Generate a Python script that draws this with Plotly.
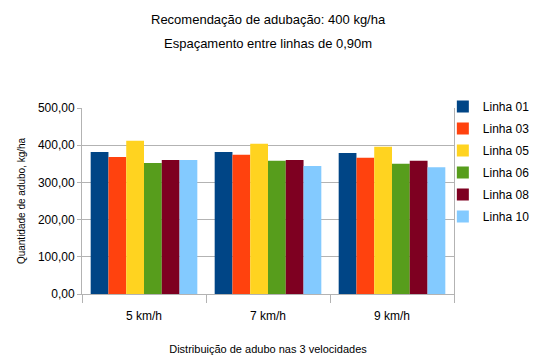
import plotly.graph_objects as go

# Fertilizer distribution per row at three tractor speeds
speeds = ["5 km/h", "7 km/h", "9 km/h"]
rows = ["Linha 01", "Linha 03", "Linha 05", "Linha 06", "Linha 08", "Linha 10"]
linha_01 = [382, 382, 379]
linha_03 = [368, 374, 366]
linha_05 = [412, 404, 396]
linha_06 = [352, 358, 350]
linha_08 = [360, 360, 358]
linha_10 = [360, 344, 341]
series = [linha_01, linha_03, linha_05, linha_06, linha_08, linha_10]
colors = ["#004586", "#ff420e", "#ffd320", "#579d1c", "#7e0021", "#83caff"]
y_ticks = [0, 100, 200, 300, 400, 500]
title_lines = ["Recomendação de adubação: 400 kg/ha", "Espaçamento entre linhas de 0,90m"]

FONT = "Liberation Sans, Arial"

fig = go.Figure()
for name, vals, col in zip(rows, series, colors):
    fig.add_trace(go.Bar(x=speeds, y=vals, name=name, marker_color=col,
                         marker_line_width=0, legendgroup=name))

# two-line heading, placed above the plot area
for line, ypos in zip(title_lines, [1.476, 1.346]):
    fig.add_annotation(text=line, xref="paper", yref="paper", x=0.5, y=ypos,
                       xanchor="center", yanchor="middle", showarrow=False,
                       font=dict(family=FONT, size=13))

fig.update_layout(
    width=536, height=356,
    margin=dict(l=82, r=82, t=108, b=62, autoexpand=False),
    paper_bgcolor="white", plot_bgcolor="white",
    font=dict(family=FONT, size=12, color="#000000"),
    separators=",.",
    bargap=0.14, bargroupgap=0,
    legend=dict(x=0.97, xanchor="left", y=1.086, yanchor="top",
                font=dict(family=FONT, size=12), tracegroupgap=3,
                itemwidth=30, bgcolor="rgba(0,0,0,0)"),
    xaxis=dict(showline=True, linecolor="#b3b3b3", linewidth=1, automargin=False,
               ticks="outside", tickson="boundaries", ticklen=8, tickcolor="#b3b3b3",
               ticklabelstandoff=11,
               tickfont=dict(family=FONT, size=12),
               title=dict(text="Distribuição de adubo nas 3 velocidades",
                          font=dict(family=FONT, size=11), standoff=22)),
    yaxis=dict(range=[0, 500], tickvals=y_ticks, tickformat=".2f", automargin=False,
               showline=True, mirror=True, linecolor="#b3b3b3", linewidth=1,
               showgrid=True, gridcolor="#b3b3b3", gridwidth=1,
               ticks="outside", ticklen=4, tickcolor="#b3b3b3",
               tickfont=dict(family=FONT, size=12),
               title=dict(text="Quantidade de adubo, kg/ha",
                          font=dict(family=FONT, size=10), standoff=10)),
)

fig.write_html("out.html")
